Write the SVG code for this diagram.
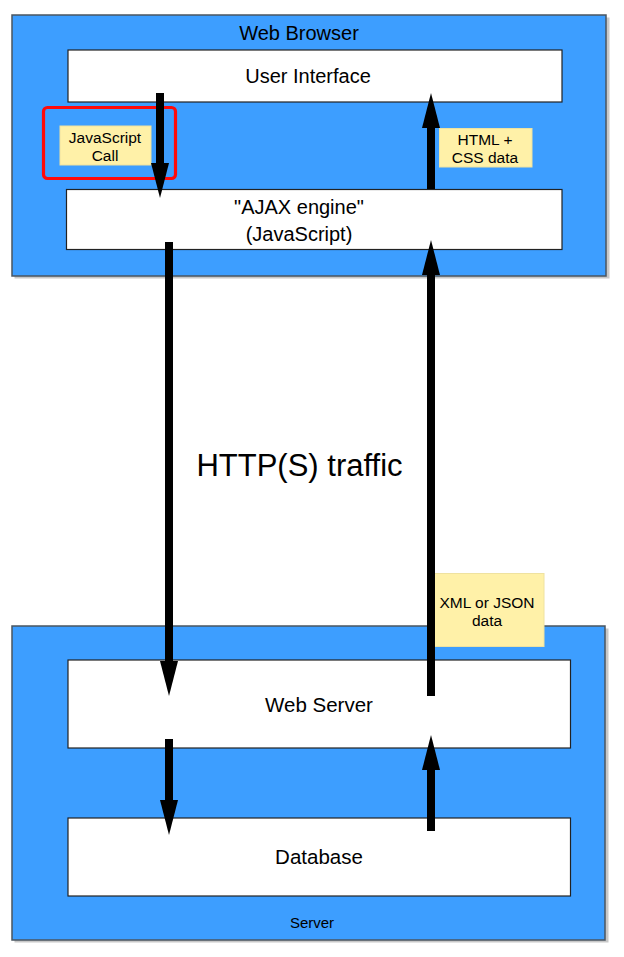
<svg xmlns="http://www.w3.org/2000/svg" width="624" height="957" viewBox="0 0 624 957">
  <defs>
    <marker id="head" markerUnits="userSpaceOnUse" viewBox="0 0 35 18" refX="0" refY="9" markerWidth="35" markerHeight="18" orient="auto">
      <path d="M0,0 L35,9 L0,18 Z" fill="#000"/>
    </marker>
  </defs>
  <style>
    text { font-family: "Liberation Sans", Arial, sans-serif; fill: #000; text-anchor: middle; }
    .tier { fill: #3d9eff; stroke: #4a5560; stroke-width: 1.5; }
    .shadow { fill: #9a9a9a; opacity: 0.55; }
    .box { fill: #fff; stroke: #222; stroke-width: 1.2; }
    .note { fill: #fff1a8; stroke: #efe2a0; stroke-width: 1; }
    .big { font-size: 20px; }
    .small { font-size: 15.5px; }
    .conn { stroke: #000; stroke-width: 8; fill: none; marker-end: url(#head); }
  </style>
  <rect width="624" height="957" fill="#fff"/>

  <g id="web-browser">
    <rect class="shadow" x="14.5" y="17.5" width="595" height="261"/>
    <rect class="tier" x="12" y="15" width="594" height="261"/>
    <text class="big" x="299" y="39.5">Web Browser</text>
  </g>
  <g id="server">
    <rect class="shadow" x="14.5" y="628.5" width="594" height="314"/>
    <rect class="tier" x="12" y="626" width="593" height="314"/>
    <text x="312" y="927.5" style="font-size:15px">Server</text>
  </g>

  <g id="user-interface">
    <rect class="box" x="68" y="50" width="494" height="52"/>
    <text class="big" x="308" y="83">User Interface</text>
  </g>
  <g id="ajax-engine">
    <rect class="box" x="66.5" y="189.5" width="495.5" height="60"/>
    <text class="big" x="299" y="214">"AJAX engine"</text>
    <text class="big" x="299" y="241">(JavaScript)</text>
  </g>
  <g id="web-server">
    <rect class="box" x="68" y="660" width="502.5" height="88"/>
    <text class="big" x="319" y="712" style="font-size:20.5px">Web Server</text>
  </g>
  <g id="database">
    <rect class="box" x="68" y="818" width="502.5" height="78"/>
    <text class="big" x="319" y="864" style="font-size:20.5px">Database</text>
  </g>

  <g id="javascript-call-highlight">
    <rect x="43.5" y="107.5" width="132" height="71" rx="4" ry="4" fill="none" stroke="#ff0a0a" stroke-width="3.2"/>
  </g>
  <g id="javascript-call-note">
    <rect class="note" x="60" y="126" width="91" height="39"/>
    <text class="small" x="105" y="143.3">JavaScript</text>
    <text class="small" x="105" y="161">Call</text>
  </g>
  <g id="html-css-note">
    <rect class="note" x="439.5" y="128.5" width="92.5" height="38.5"/>
    <text class="small" x="485" y="145">HTML +</text>
    <text class="small" x="485" y="163.3">CSS data</text>
  </g>
  <g id="xml-json-note">
    <rect class="note" x="431" y="573.5" width="113" height="73"/>
    <text class="small" x="487" y="608.3">XML or JSON</text>
    <text class="small" x="487" y="626">data</text>
  </g>
  <g id="http-traffic-label">
    <text x="299.5" y="476" style="font-size:31px">HTTP(S) traffic</text>
  </g>

  <g id="connectors">
    <path class="conn" d="M160,93 V163"/>
    <path class="conn" d="M431,189 V128"/>
    <path class="conn" d="M169,242 V661"/>
    <path class="conn" d="M431,696 V275"/>
    <path class="conn" d="M169,739 V800"/>
    <path class="conn" d="M431,831 V770"/>
  </g>
</svg>
